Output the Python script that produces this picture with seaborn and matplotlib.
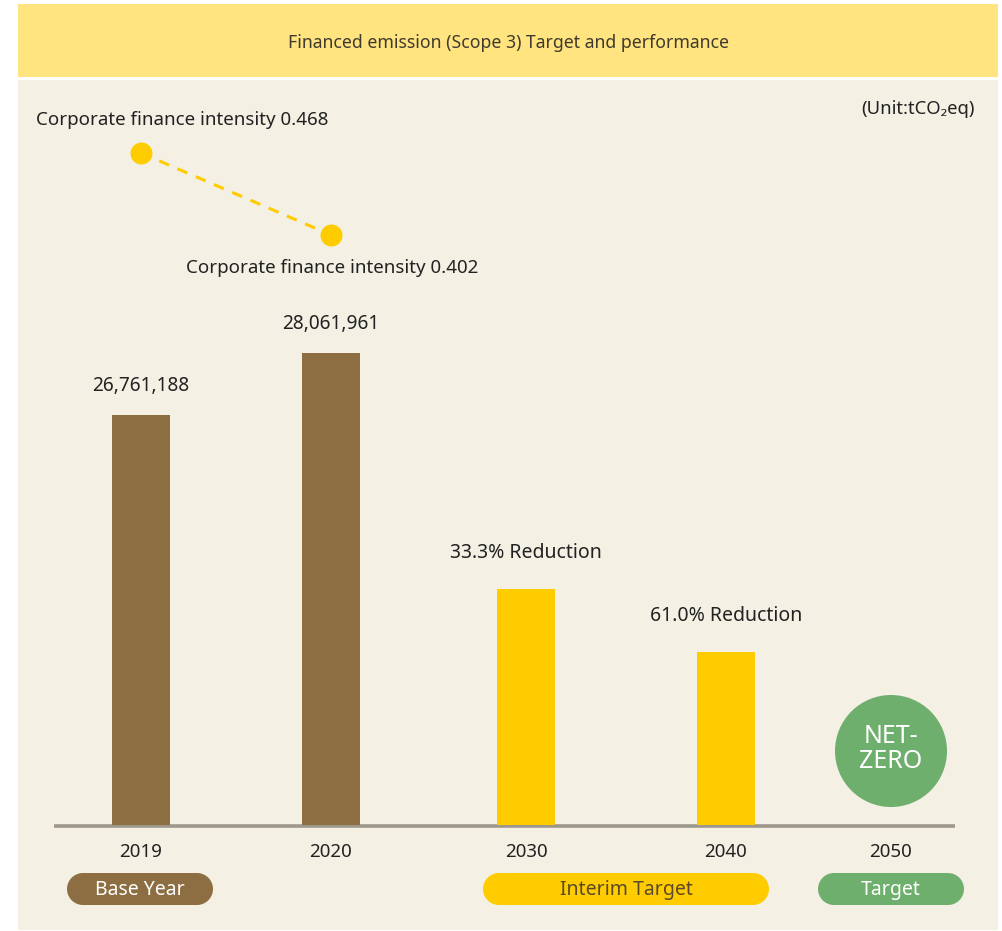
import matplotlib
matplotlib.use("Agg")
import matplotlib.pyplot as plt
import seaborn as sns
import pandas as pd
from matplotlib.patches import Circle, Rectangle

# ---------------- data ----------------
years = ["2019", "2020", "2030", "2040", "2050"]
bar_years = ["2019", "2020", "2030", "2040"]
bar_heights = [26.76, 30.81, 15.40, 11.29]          # drawn bar length
emission_labels = ["26,761,188", "28,061,961"]
reduction_labels = ["33.3% Reduction", "61.0% Reduction"]
intensity_years = ["2019", "2020"]
intensity = [0.468, 0.402]
intensity_labels = ["Corporate finance intensity 0.468", "Corporate finance intensity 0.402"]
phase_labels = ["Base Year", "Interim Target", "Target"]
title = "Financed emission (Scope 3) Target and performance"
unit = "(Unit:tCO\u2082eq)"
netzero = "NET-\nZERO"

# ---------------- style / layout ----------------
W, H = 1003, 931
BEIGE = "#F4F0E4"
BAND = "#FFE47F"
BROWN = "#8D6E42"
YELLOW = "#FFCC00"
GREEN = "#6FAF6E"
AXIS = "#9E978C"
TXT = "#222222"
xpos = {"2019": 141, "2020": 331, "2030": 526, "2040": 726, "2050": 891}
BASE_Y = 825
PX_PER_UNIT = 410 / 26.76

sns.set_theme(style="white")
plt.rcParams["font.family"] = ["Noto Sans", "DejaVu Sans"]

fig = plt.figure(figsize=(W / 100, H / 100), dpi=100)
fig.patch.set_facecolor("white")

# background / annotation axes in pixel coordinates
bg = fig.add_axes([0, 0, 1, 1], zorder=0)
bg.set_xlim(0, W)
bg.set_ylim(H, 0)
bg.axis("off")
bg.add_patch(Rectangle((18, 80), 980, 850, facecolor=BEIGE, edgecolor="none"))
bg.add_patch(Rectangle((18, 4), 980, 73, facecolor=BAND, edgecolor="none"))
bg.text(509, 43, title, ha="center", va="center", fontsize=12.7, color="#3f3a30")
bg.text(975, 109, unit, ha="right", va="center", fontsize=13.3, color=TXT)

# baseline
bg.plot([54, 955], [BASE_Y + 1, BASE_Y + 1], color=AXIS, lw=2.6, solid_capstyle="butt", zorder=3)

# year labels
for y in years:
    bg.text(xpos[y], 852, y, ha="center", va="center", fontsize=13.5, color=TXT)

# emission value labels
for y, lab in zip(["2019", "2020"], emission_labels):
    h = bar_heights[bar_years.index(y)]
    bg.text(xpos[y], BASE_Y - h * PX_PER_UNIT - 29, lab, ha="center", va="center",
            fontsize=13.7, color=TXT)

# reduction labels
for y, lab in zip(["2030", "2040"], reduction_labels):
    h = bar_heights[bar_years.index(y)]
    bg.text(xpos[y], BASE_Y - h * PX_PER_UNIT - 36, lab, ha="center", va="center",
            fontsize=14, fontweight="semibold", color=TXT)

# pills
pills = [(67, 213, BROWN, "white"), (483, 769, YELLOW, "#5a4a2a"), (818, 964, GREEN, "white")]
for (x0, x1, fc, tc), lab in zip(pills, phase_labels):
    bg.add_patch(Rectangle((x0 + 16, 873), (x1 - x0) - 32, 32, facecolor=fc, edgecolor="none"))
    bg.add_patch(Circle((x0 + 16, 889), 16, facecolor=fc, edgecolor="none"))
    bg.add_patch(Circle((x1 - 16, 889), 16, facecolor=fc, edgecolor="none"))
    bg.text((x0 + x1) / 2, 890, lab, ha="center", va="center", fontsize=14, color=tc)

# NET-ZERO circle
bg.add_patch(Circle((xpos["2050"], 751), 56, facecolor=GREEN, edgecolor="none"))
bg.text(xpos["2050"], 749, netzero, ha="center", va="center", fontsize=18, color="white",
        linespacing=1.05)

# intensity labels
bg.text(36, 120, intensity_labels[0], ha="left", va="center", fontsize=13.5, color=TXT)
bg.text(186, 268, intensity_labels[1], ha="left", va="center", fontsize=13.5, color=TXT)

# ---------------- bars ----------------
ylim_top = 34.0
ax_h = ylim_top * PX_PER_UNIT
axb = fig.add_axes([0, (H - BASE_Y) / H, 1, ax_h / H], zorder=2)
axb.patch.set_alpha(0)
df = pd.DataFrame({"year": bar_years, "x": [xpos[y] for y in bar_years], "h": bar_heights})
sns.barplot(data=df, x="x", y="h", hue="year", palette=[BROWN, BROWN, YELLOW, YELLOW],
            native_scale=True, width=58 / 190, dodge=False, saturation=1, legend=False,
            ax=axb, linewidth=0)
axb.set_xlim(0, W)
axb.set_ylim(0, ylim_top)
axb.axis("off")

# ---------------- intensity line ----------------
p_hi, p_lo = 153, 235
ppu = (p_lo - p_hi) / (intensity[0] - intensity[1])
top_px, bot_px = 100, 300
axl = fig.add_axes([0, (H - bot_px) / H, 1, (bot_px - top_px) / H], zorder=3)
axl.patch.set_alpha(0)
dfl = pd.DataFrame({"x": [xpos[y] for y in intensity_years], "v": intensity})
sns.lineplot(data=dfl, x="x", y="v", ax=axl, color=YELLOW, lw=2.2, linestyle=(0, (3.5, 3)))
sns.scatterplot(data=dfl, x="x", y="v", ax=axl, color=YELLOW, s=250, linewidth=0, zorder=5)
axl.set_xlim(0, W)
axl.set_ylim(intensity[1] - (bot_px - p_lo) / ppu, intensity[1] + (p_lo - top_px) / ppu)
axl.axis("off")

fig.savefig("out.png", dpi=100, facecolor=fig.get_facecolor())
